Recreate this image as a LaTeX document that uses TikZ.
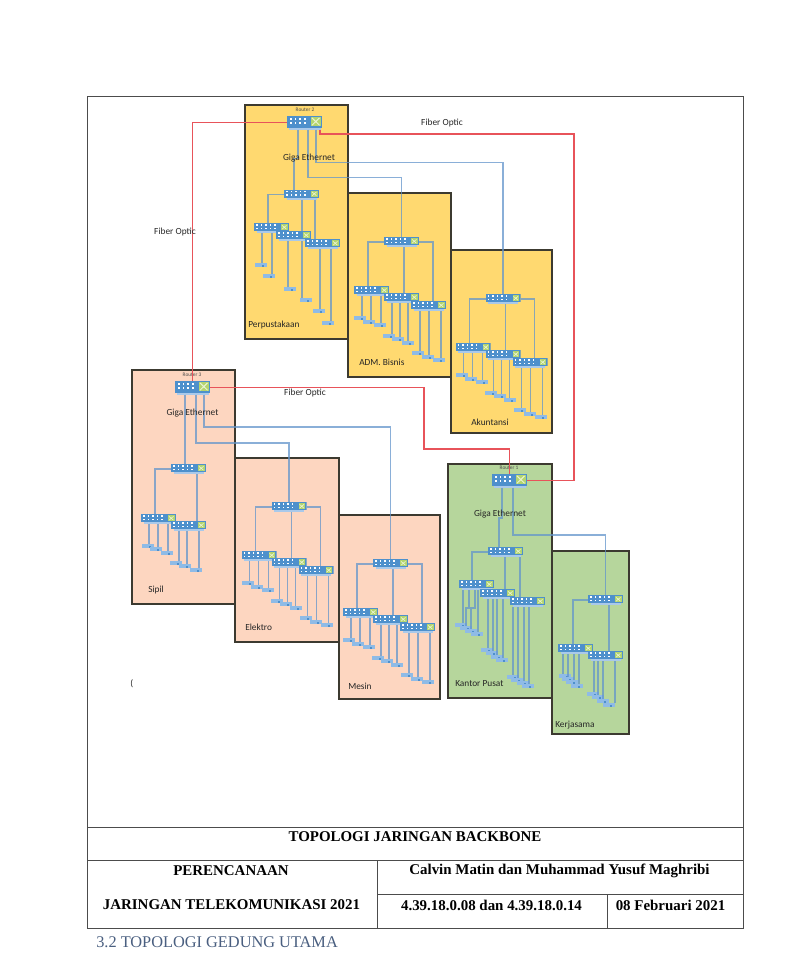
\documentclass[tikz,border=0pt]{standalone}
\usepackage{fontspec}
\setmainfont{Liberation Serif}
\newfontfamily\diagfont{Carlito}
\usetikzlibrary{calc}
\definecolor{yellowroom}{HTML}{FFD970}
\definecolor{salmonroom}{HTML}{FDD6C0}
\definecolor{greenroom}{HTML}{B6D69C}
\definecolor{roomedge}{HTML}{3C3A30}
\definecolor{fiberred}{HTML}{E8535A}
\definecolor{lanblue}{HTML}{6395CB}
\definecolor{swblue}{HTML}{4E90CC}
\definecolor{swlight}{HTML}{A9C9EA}
\definecolor{swgreen}{HTML}{B4D56E}
\definecolor{hostblue}{HTML}{8FBBE6}
\definecolor{headblue}{HTML}{4A5F80}
\tikzset{
  x=0.75pt, y=-0.75pt,
  room/.style={draw=roomedge, line width=0.95pt, rectangle, inner sep=0pt, outer sep=0pt},
  lan/.style={draw=lanblue, line width=1pt, opacity=0.75},
  fiber/.style={draw=fiberred, line width=1pt},
  frameline/.style={draw=black!70, line width=0.55pt},
  swbox/.style={rectangle, inner sep=0pt, outer sep=0pt, minimum width=26.25pt, minimum height=7.5pt,
    path picture={
      \begin{scope}[shift={(path picture bounding box.center)}]
        \fill[swlight] (-15,3.3) rectangle (15,5);
        \fill[swblue] (-17.5,-5) rectangle (17.5,3.4);
        \foreach \i in {0,...,4}{\foreach \j in {-2.9,0.3}{
          \fill[white] (-15.4+4.5*\i,\j-0.8) rectangle (-13.9+4.5*\i,\j+0.8);}}
        \fill[swgreen] (9.5,-3.6) rectangle (16,2.2);
        \draw[white!70!swgreen, line width=0.5pt] (10.5,-2.6) -- (15,1.2) (15,-2.6) -- (10.5,1.2);
      \end{scope}}},
  routerbox/.style={rectangle, inner sep=0pt, outer sep=0pt, minimum width=26.25pt, minimum height=10.5pt,
    path picture={
      \begin{scope}[shift={(path picture bounding box.center)}]
        \fill[swlight] (-16,5.3) rectangle (16,7);
        \fill[swblue] (-17.5,-7) rectangle (17.5,5.4);
        \foreach \i in {0,...,3}{\foreach \j in {-3.2,0.4}{
          \fill[white] (-14.4+4.6*\i,\j-0.9) rectangle (-12.8+4.6*\i,\j+0.9);}}
        \fill[swgreen] (6.5,-5.6) rectangle (16,3.8);
        \draw[white!70!swgreen, line width=0.7pt] (7.5,-4.6) -- (15,2.8) (15,-4.6) -- (7.5,2.8);
      \end{scope}}},
  hostbox/.style={rectangle, inner sep=0pt, outer sep=0pt, minimum width=9pt, minimum height=2.6pt, fill=hostblue,
    path picture={\fill[swblue] ([xshift=1pt]path picture bounding box.center) rectangle ([xshift=2.6pt,yshift=-2pt]path picture bounding box.center);}},
  roomlabel/.style={font=\diagfont\fontsize{7pt}{8pt}\selectfont, text=black!85, anchor=west, inner sep=0pt},
  midlabel/.style={font=\diagfont\fontsize{7pt}{8pt}\selectfont, text=black!85, inner sep=0pt},
  routerlabel/.style={font=\diagfont\fontsize{4pt}{4.5pt}\selectfont, text=black!70, inner sep=0pt},
  tabletext/.style={font=\bfseries\fontsize{11.2pt}{13pt}\selectfont, inner sep=0pt},
}
% host fed by a vertical drop from a switch: switch, offset of the drop, host name, host position
\newcommand{\hostdrop}[5]{%
  \node[hostbox] (#3) at (#4,#5) {};
  \coordinate (#3t) at ($(#1.south)+(#2,0)$);
  \draw[lan] (#3t) -- (#3t |- #3.north);
}
% three-switch tree with three hosts on each switch; geometry of the ADM. Bisnis room, shifted
\newcommand{\lantree}[3]{%
  \begin{scope}[shift={(#2,#3)}]
    \node[swbox] (#1a) at (401.5,242) {};
    \node[swbox] (#1b) at (371.5,291) {};
    \node[swbox] (#1c) at (401.5,298) {};
    \node[swbox] (#1d) at (428.5,306) {};
    \draw[lan] (#1a.west) -| ($(#1b.north)+(-3.5,0)$);
    \draw[lan] ($(#1a.south)+(2.5,0)$) -- ($(#1c.north)+(2.5,0)$);
    \draw[lan] (#1a.east) -| ($(#1d.north)+(4.5,0)$);
    \hostdrop{#1b}{-9.5}{#1h1}{360}{318}
    \hostdrop{#1b}{-0.5}{#1h2}{369}{322}
    \hostdrop{#1b}{9.5}{#1h3}{380}{325}
    \hostdrop{#1c}{-9.5}{#1h4}{389}{336}
    \hostdrop{#1c}{-1.5}{#1h5}{398}{339}
    \hostdrop{#1c}{6.5}{#1h6}{408}{343}
    \hostdrop{#1d}{-8.5}{#1h7}{418}{353}
    \hostdrop{#1d}{0.5}{#1h8}{428}{357}
    \hostdrop{#1d}{12.5}{#1h9}{439}{360}
  \end{scope}
}
\newcommand{\roomrect}[6]{%
  \node[room, fill=#2, minimum width={(#5-#3)*0.75pt}, minimum height={(#6-#4)*0.75pt}, anchor=north west] (#1) at (#3,#4) {};
}
\begin{document}
\begin{tikzpicture}
\useasboundingbox[fill=white] (0,0) rectangle (796,960);

% rooms
\roomrect{perpus}{yellowroom}{245}{105}{348}{339}
\roomrect{adm}{yellowroom}{348}{193}{451}{377}
\roomrect{akun}{yellowroom}{451}{250}{552}{433}
\roomrect{sipil}{salmonroom}{132}{370}{235}{604}
\roomrect{elektro}{salmonroom}{235}{458}{339}{642}
\roomrect{mesin}{salmonroom}{339}{515}{440}{699}
\roomrect{kantor}{greenroom}{448}{464}{552}{698}
\roomrect{kerja}{greenroom}{552}{551}{629}{734}

% routers
\node[routerbox] (r2) at (304.5,122.5) {};
\node[routerbox] (r3) at (192.5,387.5) {};
\node[routerbox] (r1) at (509.5,480.5) {};
\node[routerlabel] (r2l) at (305,110) {Router 2};
\node[routerlabel] (r3l) at (192,375) {Router 3};
\node[routerlabel] (r1l) at (509,468) {Router 1};

% trees
\lantree{ad}{0}{0}
\lantree{ak}{101.5}{57}
\lantree{el}{-112.5}{265}
\lantree{me}{-11}{322}

% Perpustakaan
\node[swbox] (pa) at (301.5,194.5) {};
\node[swbox] (pb) at (271.5,228) {};
\node[swbox] (pc) at (293.5,236) {};
\node[swbox] (pd) at (322.5,244) {};
\draw[lan] (pa.west) -| ($(pb.north)+(-3.5,0)$);
\draw[lan] ($(pa.south)+(0.5,0)$) -- ($(pc.north)+(8.5,0)$);
\draw[lan] ($(pa.south)+(13.5,0)$) -- ($(pd.north)+(-7.5,0)$);
\hostdrop{pb}{-9.5}{ph1}{261}{265}
\hostdrop{pb}{0.5}{ph2}{269}{276}
\hostdrop{pc}{-5.5}{ph3}{290}{289}
\hostdrop{pc}{8.5}{ph4}{306}{300}
\hostdrop{pd}{-2.5}{ph5}{319}{311}
\hostdrop{pd}{8.5}{ph6}{328}{323}

% Sipil
\node[swbox] (sa) at (188.5,469) {};
\node[swbox] (sb) at (158.5,519) {};
\node[swbox] (sc) at (188.5,526) {};
\draw[lan] (sa.west) -| ($(sb.north)+(-3.5,0)$);
\draw[lan] ($(sa.south)+(8.5,0)$) -- ($(sc.north)+(8.5,0)$);
\hostdrop{sb}{-9.5}{sh1}{148}{546}
\hostdrop{sb}{-0.5}{sh2}{156}{549}
\hostdrop{sb}{9.5}{sh3}{167}{553}
\hostdrop{sc}{-9.5}{sh4}{176}{563}
\hostdrop{sc}{-1.5}{sh5}{185}{566}
\hostdrop{sc}{10.5}{sh6}{196}{570}

% Kantor Pusat
\node[swbox] (ka) at (505.5,552) {};
\node[swbox] (kb) at (476.5,585) {};
\node[swbox] (kc) at (497.5,594) {};
\node[swbox] (kd) at (527.5,602) {};
\draw[lan] (ka.west) -| ($(kb.north)+(-4.5,0)$);
\draw[lan] ($(ka.south)+(-0.5,0)$) -- ($(kc.north)+(7.5,0)$);
\draw[lan] ($(ka.south)+(14.5,0)$) -- ($(kd.north)+(-7.5,0)$);
\hostdrop{kb}{-13.5}{kh1}{461}{625}
\node[hostbox] (kh2) at (466,628) {};
\node[hostbox] (kh3) at (471,631) {};
\draw[lan] ($(kb.south)+(-7.5,0)$) -- ++(0,18) -| (kh2.north);
\draw[lan] ($(kb.south)+(-1.5,0)$) -- ++(0,18) -| (kh3.north);
\hostdrop{kb}{1.5}{kh4}{477}{634}
\hostdrop{kc}{-9.5}{kh5}{487}{650}
\hostdrop{kc}{-4.5}{kh6}{492}{653}
\hostdrop{kc}{-0.5}{kh7}{497}{657}
\hostdrop{kc}{5.5}{kh8}{502}{660}
\hostdrop{kd}{-14.5}{kh9}{513}{677}
\hostdrop{kd}{-9.5}{kh10}{517}{680}
\hostdrop{kd}{-3.5}{kh11}{523}{683}
\hostdrop{kd}{1.5}{kh12}{528}{686}

% Kerjasama
\node[swbox] (wa) at (605.5,600) {};
\node[swbox] (wb) at (575.5,649) {};
\node[swbox] (wc) at (605.5,656) {};
\draw[lan] (wa.west) -| ($(wb.north)+(-2.5,0)$);
\draw[lan] ($(wa.south)+(3.5,0)$) -- ($(wc.north)+(3.5,0)$);
\hostdrop{wb}{-12.5}{wh1}{565}{676}
\hostdrop{wb}{-7.5}{wh2}{568}{679}
\hostdrop{wb}{-1.5}{wh3}{572}{682}
\hostdrop{wb}{3.5}{wh4}{577}{686}
\hostdrop{wc}{-11.5}{wh5}{593}{694}
\hostdrop{wc}{-7.5}{wh6}{598}{697}
\hostdrop{wc}{-2.5}{wh7}{603}{701}
\hostdrop{wc}{9.5}{wh8}{609}{705}

% LAN from routers
\draw[lan] ($(r2.south)+(-6.5,0)$) -- ++(0,29) -| ($(pa.north)+(-7.5,0)$);
\draw[lan] ($(r2.south)+(3.5,0)$) -- ++(0,48) -| (ada.north);
\draw[lan] ($(r2.south)+(11.5,0)$) -- ++(0,33) -| (aka.north);
\draw[lan] ($(r3.south)+(-7.5,0)$) -- ($(sa.north)+(-3.5,0)$);
\draw[lan] ($(r3.south)+(3.5,0)$) -- ++(0,48.5) -| (ela.north);
\draw[lan] ($(r3.south)+(11.5,0)$) -- ++(0,32.5) -| (mea.north);
\draw[lan] ($(r1.south)+(-7.5,0)$) -- ++(0,30.5) -| ($(ka.north)+(-6.5,0)$);
\draw[lan] ($(r1.south)+(3.5,0)$) -- ++(0,47.5) -| (wa.north);

% fiber backbone
\draw[fiber] (r2.west) -| (r3.north);
\draw[fiber] ($(r2.south)+(15.5,0)$) -- ++(0,4.5) -- ++(254,0) |- (r1.east);
\draw[fiber] (r3.east) -- ++(214,0) -- ++(0,61.5) -| (r1.north);

% labels
\node[midlabel] (fo1) at (442,123.5) {Fiber Optic};
\node[midlabel] (fo2) at (175,232.5) {Fiber Optic};
\node[midlabel] (fo3) at (305,393.5) {Fiber Optic};
\node[midlabel] (ge2) at (309,158.5) {Giga Ethernet};
\node[midlabel] (ge3) at (192.5,413.5) {Giga Ethernet};
\node[midlabel] (ge1) at (500,514.5) {Giga Ethernet};
\node[roomlabel] (lperpus) at (248,325) {Perpustakaan};
\node[roomlabel] (ladm) at (359,362) {ADM. Bisnis};
\node[roomlabel] (lakun) at (471,422) {Akuntansi};
\node[roomlabel] (lsipil) at (148,590) {Sipil};
\node[roomlabel] (lelektro) at (245,627) {Elektro};
\node[roomlabel] (lmesin) at (348,686) {Mesin};
\node[roomlabel] (lkantor) at (455,684) {Kantor Pusat};
\node[roomlabel] (lkerja) at (555,725) {Kerjasama};
\node[roomlabel] (stray) at (130,684) {(};

% frame and title block
\draw[frameline] (87.5,96) rectangle (743,928);
\draw[frameline] (87.5,827) -- (743,827);
\draw[frameline] (87.5,860.5) -- (743,860.5);
\draw[frameline] (377,860.5) -- (377,928);
\draw[frameline] (377,894) -- (743,894);
\draw[frameline] (607,894) -- (607,928);
\node[tabletext] (t1) at (415,837) {TOPOLOGI JARINGAN BACKBONE};
\node[tabletext] (t2) at (231,871) {PERENCANAAN};
\node[tabletext] (t3) at (231.5,905) {JARINGAN TELEKOMUNIKASI 2021};
\node[tabletext] (t4) at (559.5,871) {Calvin Matin dan Muhammad Yusuf Maghribi};
\node[tabletext] (t5) at (491.5,905) {4.39.18.0.08 dan 4.39.18.0.14};
\node[tabletext] (t6) at (670.5,905) {08 Februari 2021};
\node[anchor=west, inner sep=0pt, text=headblue, font=\fontsize{12.25pt}{14pt}\selectfont] (t7) at (96,942) {3.2 TOPOLOGI GEDUNG UTAMA};
\end{tikzpicture}
\end{document}
